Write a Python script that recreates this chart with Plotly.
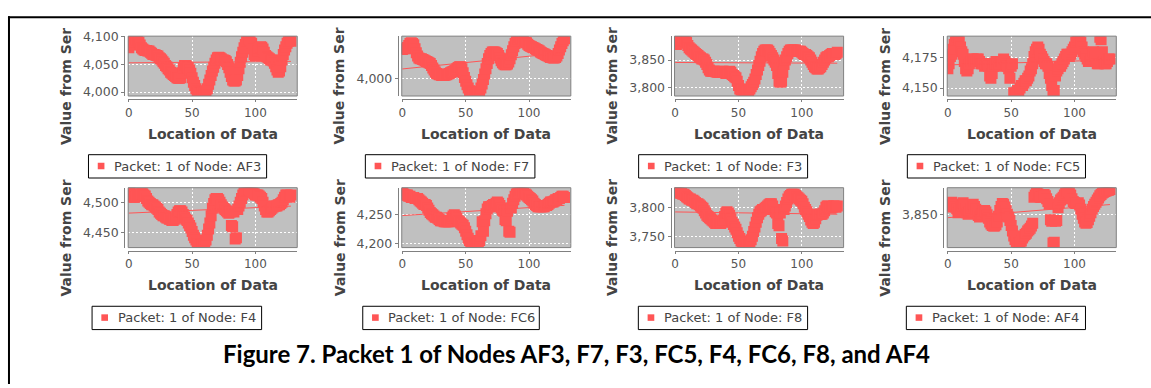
import numpy as np
import plotly.graph_objects as go

W, H = 1151, 388

# ---------------- data ----------------
location = list(range(129))

af3 = [4080, 4085, 4090, 4095, 4095, 4095, 4094, 4094, 4090, 4085,
       4080, 4078, 4076, 4075, 4075, 4074, 4074, 4072, 4070, 4068,
       4068, 4067, 4066, 4065, 4062, 4060, 4058, 4055, 4052, 4048,
       4046, 4042, 4040, 4036, 4034, 4032, 4030, 4028, 4026, 4025,
       4025, 4026, 4035, 4044, 4048, 4048, 4046, 4044, 4040, 4034,
       4026, 4018, 4012, 4006, 4002, 4000, 3998, 3998, 3998, 3999,
       4000, 4002, 4006, 4014, 4022, 4030, 4038, 4045, 4052, 4058,
       4062, 4063, 4062, 4060, 4058, 4058, 4057, 4055, 4050, 4044,
       4036, 4028, 4022, 4020, 4020, 4022, 4030, 4042, 4054, 4064,
       4072, 4080, 4086, 4092, 4095, 4096, 4094, 4088, 4078, 4068,
       4066, 4068, 4074, 4080, 4082, 4081, 4078, 4072, 4066, 4064,
       4062, 4060, 4058, 4058, 4056, 4052, 4046, 4040, 4036, 4038,
       4046, 4058, 4068, 4076, 4082, 4088, 4092, 4094, 4092]

f7 = [4088, 4090, 4090, 4092, 4094, 4100, 4106, 4108, 4106, 4102,
      4090, 4078, 4068, 4062, 4060, 4060, 4058, 4056, 4054, 4052,
      4050, 4048, 4046, 4040, 4032, 4026, 4020, 4016, 4014, 4012,
      4012, 4010, 4010, 4010, 4011, 4012, 4014, 4016, 4018, 4020,
      4022, 4024, 4026, 4030, 4034, 4036, 4036, 4030, 4018, 4004,
      3992, 3982, 3972, 3964, 3960, 3958, 3956, 3955, 3955, 3956,
      3958, 3962, 3972, 3984, 3998, 4014, 4030, 4046, 4060, 4070,
      4076, 4080, 4080, 4080, 4078, 4076, 4070, 4062, 4054, 4048,
      4044, 4042, 4042, 4044, 4050, 4060, 4072, 4084, 4096, 4106,
      4114, 4120, 4124, 4124, 4122, 4118, 4114, 4110, 4108, 4104,
      4100, 4098, 4096, 4094, 4092, 4090, 4088, 4086, 4084, 4080,
      4078, 4076, 4074, 4072, 4070, 4068, 4066, 4064, 4064, 4062,
      4062, 4064, 4068, 4076, 4086, 4096, 4106, 4114, 4120]

f3 = [3880, 3878, 3880, 3884, 3886, 3886, 3886, 3886, 3884, 3882,
      3876, 3872, 3870, 3868, 3866, 3864, 3862, 3860, 3858, 3856,
      3854, 3852, 3852, 3850, 3846, 3842, 3836, 3832, 3830, 3830,
      3830, 3830, 3829, 3828, 3828, 3828, 3829, 3830, 3830, 3828,
      3826, 3826, 3828, 3830, 3828, 3824, 3822, 3820, 3818, 3812,
      3804, 3798, 3796, 3796, 3796, 3794, 3792, 3792, 3794, 3798,
      3802, 3806, 3810, 3816, 3824, 3832, 3840, 3848, 3856, 3862,
      3866, 3868, 3868, 3868, 3866, 3862, 3858, 3854, 3850, 3846,
      3840, 3826, 3812, 3810, 3812, 3828, 3842, 3850, 3856, 3862,
      3866, 3868, 3868, 3868, 3868, 3868, 3866, 3866, 3866, 3866,
      3864, 3862, 3860, 3860, 3858, 3856, 3854, 3850, 3846, 3842,
      3838, 3836, 3834, 3834, 3836, 3838, 3842, 3846, 3850, 3854,
      3856, 3856, 3858, 3860, 3862, 3862, 3860, 3862, 3864]

fc5 = [4166, 4170, 4176, 4178, 4182, 4186, 4190, 4192, 4192, 4190,
       4184, 4180, 4178, 4172, 4166, 4164, 4166, 4170, 4172, 4174,
       4174, 4172, 4172, 4174, 4174, 4172, 4170, 4170, 4170, 4168,
       4170, 4170, 4168, 4160, 4158, 4162, 4168, 4170, 4172, 4170,
       4168, 4170, 4172, 4172, 4174, 4172, 4170, 4168, 4166, 4158,
       4168, 4170, 4146, 4144, 4146, 4148, 4148, 4150, 4152, 4152,
       4154, 4156, 4156, 4158, 4160, 4164, 4166, 4170, 4176, 4180,
       4182, 4184, 4182, 4178, 4176, 4174, 4172, 4170, 4170, 4168,
       4162, 4158, 4152, 4146, 4148, 4160, 4164, 4166, 4168, 4168,
       4170, 4172, 4174, 4176, 4178, 4178, 4176, 4178, 4180, 4182,
       4184, 4188, 4190, 4192, 4190, 4188, 4184, 4180, 4178, 4176,
       4174, 4172, 4172, 4174, 4178, 4180, 4176, 4172, 4170, 4170,
       4192, 4190, 4180, 4172, 4170, 4170, 4172, 4174, 4174]

f4 = [4512, 4520, 4512, 4508, 4508, 4508, 4510, 4510, 4512, 4514,
      4514, 4514, 4512, 4510, 4506, 4502, 4500, 4498, 4496, 4496,
      4494, 4492, 4490, 4488, 4484, 4482, 4480, 4478, 4478, 4476,
      4474, 4474, 4472, 4472, 4470, 4470, 4472, 4474, 4480, 4484,
      4486, 4486, 4484, 4480, 4476, 4472, 4470, 4466, 4462, 4458,
      4452, 4446, 4442, 4438, 4434, 4432, 4430, 4430, 4430, 4432,
      4434, 4438, 4446, 4456, 4466, 4478, 4490, 4498, 4504, 4506,
      4506, 4504, 4500, 4496, 4492, 4490, 4488, 4486, 4484, 4482,
      4484, 4462, 4460, 4484, 4440, 4442, 4488, 4494, 4500, 4506,
      4512, 4516, 4518, 4520, 4522, 4522, 4520, 4518, 4516, 4514,
      4512, 4512, 4512, 4510, 4508, 4506, 4500, 4494, 4488, 4484,
      4484, 4486, 4488, 4490, 4492, 4494, 4494, 4494, 4496, 4496,
      4498, 4500, 4504, 4508, 4512, 4512, 4510, 4508, 4512]

fc6 = [4292, 4286, 4284, 4284, 4284, 4282, 4282, 4280, 4280, 4280,
       4278, 4278, 4278, 4276, 4274, 4272, 4270, 4268, 4268, 4266,
       4262, 4258, 4254, 4252, 4250, 4248, 4246, 4246, 4244, 4242,
       4240, 4240, 4240, 4238, 4238, 4238, 4238, 4238, 4240, 4244,
       4248, 4250, 4248, 4244, 4240, 4238, 4236, 4234, 4232, 4228,
       4222, 4216, 4210, 4206, 4202, 4200, 4198, 4198, 4198, 4200,
       4202, 4206, 4214, 4238, 4222, 4240, 4252, 4260, 4264, 4264,
       4264, 4266, 4268, 4268, 4270, 4272, 4270, 4266, 4262, 4258,
       4256, 4242, 4240, 4256, 4222, 4220, 4262, 4270, 4276, 4282,
       4286, 4288, 4290, 4292, 4292, 4290, 4288, 4286, 4284, 4282,
       4280, 4278, 4276, 4274, 4270, 4268, 4266, 4264, 4264, 4264,
       4264, 4264, 4264, 4266, 4266, 4268, 4270, 4272, 4272, 4272,
       4274, 4276, 4276, 4278, 4278, 4280, 4282, 4282, 4280]

f8 = [3830, 3828, 3826, 3826, 3824, 3824, 3822, 3822, 3820, 3818,
      3816, 3814, 3814, 3812, 3812, 3810, 3808, 3806, 3806, 3804,
      3802, 3800, 3798, 3794, 3790, 3786, 3784, 3782, 3780, 3778,
      3776, 3774, 3772, 3772, 3772, 3772, 3772, 3774, 3778, 3784,
      3790, 3792, 3790, 3786, 3780, 3774, 3770, 3766, 3762, 3756,
      3750, 3746, 3742, 3740, 3738, 3736, 3734, 3734, 3736, 3740,
      3744, 3750, 3758, 3766, 3774, 3782, 3788, 3792, 3794, 3796,
      3796, 3798, 3800, 3802, 3804, 3806, 3806, 3802, 3796, 3792,
      3790, 3772, 3768, 3790, 3746, 3742, 3796, 3802, 3808, 3814,
      3818, 3820, 3822, 3822, 3822, 3820, 3818, 3816, 3814, 3812,
      3810, 3806, 3800, 3796, 3792, 3788, 3784, 3778, 3774, 3772,
      3774, 3780, 3786, 3788, 3788, 3788, 3788, 3790, 3794, 3800,
      3802, 3802, 3800, 3798, 3800, 3802, 3802, 3800, 3802]

af4 = [3872, 3880, 3878, 3886, 3876, 3880, 3872, 3866, 3856, 3862,
       3874, 3876, 3884, 3878, 3868, 3856, 3852, 3858, 3868, 3870,
       3880, 3874, 3866, 3854, 3848, 3844, 3848, 3852, 3860, 3862,
       3858, 3850, 3840, 3830, 3824, 3820, 3818, 3818, 3822, 3830,
       3846, 3862, 3874, 3882, 3880, 3872, 3862, 3852, 3844, 3834,
       3820, 3804, 3790, 3780, 3774, 3770, 3768, 3770, 3776, 3784,
       3790, 3794, 3798, 3804, 3808, 3812, 3818, 3826, 3900, 3906,
       3912, 3910, 3906, 3900, 3900, 3904, 3908, 3904, 3896, 3888,
       3880, 3836, 3832, 3770, 3772, 3832, 3834, 3870, 3884, 3892,
       3896, 3900, 3906, 3912, 3916, 3918, 3914, 3906, 3896, 3888,
       3884, 3882, 3882, 3884, 3878, 3866, 3852, 3840, 3830, 3826,
       3828, 3836, 3846, 3856, 3866, 3874, 3880, 3886, 3892, 3898,
       3904, 3908, 3912, 3914, 3916, 3918, 3920, 3920, 3922]

nodes = ["AF3", "F7", "F3", "FC5", "F4", "FC6", "F8", "AF4"]
series = [af3, f7, f3, fc5, f4, fc6, f8, af4]
y_tick_values = [[4000, 4050, 4100], [4000], [3800, 3850], [4150, 4175],
                 [4450, 4500], [4200, 4250], [3750, 3800], [3850]]
x_tick_values = [0, 50, 100]
x_title = "Location of Data"
y_title = "Value from Ser"
legend_prefix = "Packet: 1 of Node: "
caption = "Figure 7. Packet 1 of Nodes AF3, F7, F3, FC5, F4, FC6, F8, and AF4"

# ---------------- layout constants (pixels) ----------------
y_ranges = [[3993, 4101], [3948, 4128], [3785.3, 3893], [4143.4, 4192.9],
            [4425.8, 4523.7], [4193.8, 4296.6], [3730.6, 3833.3], [3757, 3927]]
x_range = [-0.5, 133]
col_left = [125.5, 399.8, 673.3, 946.7]
plot_w = 169.5
row_top = [30.0, 186.0]
plot_h = 61.6
legend_boxes = [(85.7, 264.3), (363.3, 533.3), (637.3, 806.7), (906.7, 1085.3),
                (89.3, 259.3), (360.7, 537.7), (637.0, 806.7), (905.7, 1085.3)]
legend_top = [152.0, 308.0]
legend_h = 24.0

RED = "#FF5555"
GRID_BG = "#C0C0C0"
AXIS_C = "#808080"
FONT = "DejaVu Sans"
MARKER_SIZE = 11


def px(x):
    return x / W


def py(y):
    return 1 - y / H


fig = go.Figure()
shapes = []
annotations = []
layout = {}

for i, (name, vals) in enumerate(zip(nodes, series)):
    r, c = divmod(i, 4)
    k = i + 1
    xa = "x" if k == 1 else f"x{k}"
    ya = "y" if k == 1 else f"y{k}"
    xkey = "xaxis" if k == 1 else f"xaxis{k}"
    ykey = "yaxis" if k == 1 else f"yaxis{k}"

    fig.add_trace(go.Scatter(
        x=location, y=vals, mode="markers", xaxis=xa, yaxis=ya,
        marker=dict(symbol="square", size=MARKER_SIZE, color=RED, line=dict(width=0)),
        showlegend=False, hoverinfo="x+y"))
    slope, intercept = np.polyfit(location, vals, 1)
    xs = [location[0], location[-1]]
    fig.add_trace(go.Scatter(
        x=xs, y=[intercept + slope * v for v in xs], mode="lines",
        xaxis=xa, yaxis=ya, line=dict(color=RED, width=1),
        showlegend=False, hoverinfo="skip"))

    left = col_left[c]
    right = left + plot_w
    top = row_top[r]
    bottom = top + plot_h

    layout[xkey] = dict(
        domain=[px(left), px(right)], range=x_range, anchor="free",
        position=py(bottom + 3.5), showline=True, linecolor=AXIS_C, linewidth=1,
        ticks="outside", ticklen=2, tickcolor=AXIS_C, tickwidth=1,
        tickvals=x_tick_values, tickfont=dict(family=FONT, size=12, color="#555555"),
        showgrid=True, gridcolor="white", gridwidth=1, griddash="2px,2px",
        zeroline=False, fixedrange=True)
    layout[ykey] = dict(
        domain=[py(bottom), py(top)], range=y_ranges[i], anchor="free",
        position=px(left - 4), showline=True, linecolor=AXIS_C, linewidth=1,
        ticks="outside", ticklen=3, tickcolor=AXIS_C, tickwidth=1,
        tickvals=y_tick_values[i], tickformat=",d",
        tickfont=dict(family=FONT, size=12.5, color="#555555"),
        showgrid=True, gridcolor="white", gridwidth=1, griddash="2px,2px",
        zeroline=False, fixedrange=True)

    # plot-area border
    shapes.append(dict(type="rect", xref=f"{xa} domain", yref=f"{ya} domain",
                       x0=0, x1=1, y0=0, y1=1, line=dict(color=AXIS_C, width=1)))

    # axis titles
    annotations.append(dict(
        text=x_title, xref="paper", yref="paper", x=px((left + right) / 2),
        y=py(top + 100.5), xanchor="center", yanchor="middle", showarrow=False,
        font=dict(family=FONT, size=14, color="#444444", weight="bold")))
    annotations.append(dict(
        text=y_title, xref="paper", yref="paper", x=px(left - 62.5),
        y=py(top + 51.5), xanchor="center", yanchor="middle", showarrow=False,
        textangle=-90,
        font=dict(family=FONT, size=14, color="#444444", weight="bold")))

    # legend box
    bx0, bx1 = legend_boxes[i]
    by0 = legend_top[r]
    by1 = by0 + legend_h
    shapes.append(dict(type="rect", xref="paper", yref="paper",
                       x0=px(bx0), x1=px(bx1), y0=py(by1), y1=py(by0),
                       line=dict(color="black", width=1), fillcolor="white",
                       layer="below"))
    shapes.append(dict(type="rect", xref="paper", yref="paper",
                       x0=px(bx0 + 9.3), x1=px(bx0 + 16), y0=py(by0 + 15),
                       y1=py(by0 + 8.3), line=dict(width=0), fillcolor=RED))
    annotations.append(dict(
        text=legend_prefix + name, xref="paper", yref="paper", x=px(bx0 + 23.5),
        y=py(by0 + 12), xanchor="left", yanchor="middle", showarrow=False,
        font=dict(family=FONT, size=13, color="#444444")))

# frame lines
shapes.append(dict(type="line", xref="paper", yref="paper", x0=px(5), x1=1,
                   y0=py(10.5), y1=py(10.5), line=dict(color="black", width=2)))
shapes.append(dict(type="line", xref="paper", yref="paper", x0=px(6), x1=px(6),
                   y0=py(9.5), y1=0, line=dict(color="black", width=2)))

annotations.append(dict(
    text=caption, xref="paper", yref="paper", x=px(574.5), y=py(357),
    xanchor="center", yanchor="middle", showarrow=False,
    font=dict(family="Lato", size=24, color="black", weight="bold")))

fig.update_layout(
    width=W, height=H, margin=dict(l=0, r=0, t=0, b=0),
    paper_bgcolor="white", plot_bgcolor=GRID_BG, showlegend=False,
    shapes=shapes, annotations=annotations, **layout)

fig.write_html("out.html")
